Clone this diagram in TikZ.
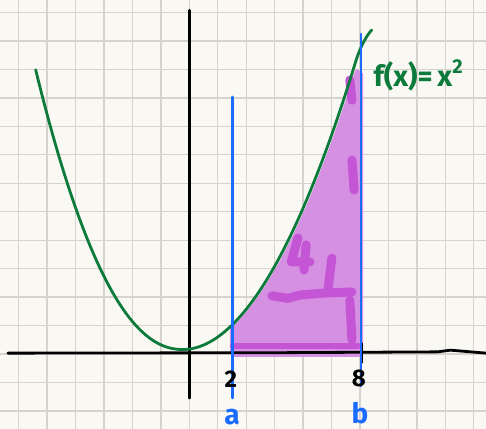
\documentclass[tikz,border=0pt]{standalone}
\usepackage{fontspec}
\setmainfont{Fira Sans}
\usepackage{tikz}
\usepackage{xcolor}

\definecolor{paper}{HTML}{FAF8F3}
\definecolor{gridgray}{HTML}{D6D2CD}
\definecolor{curvegreen}{HTML}{0B7A3B}
\definecolor{boundblue}{HTML}{1A6BFF}
\definecolor{areafill}{HTML}{D690E2}
\definecolor{areadark}{HTML}{C456D6}

\begin{document}
\begin{tikzpicture}[x=42.8pt,y=42.8pt,line cap=round,line join=round,
  declare function={lbranch(\t)=0.105+0.459*pow(-\t-0.15,2.15);
                    rbranch(\t)=0.105+0.4365*pow(\t+0.15,1.96);},
  gridline/.style={gridgray,line width=1.3pt},
  axisline/.style={black,line width=2.8pt},
  boundline/.style={boundblue,line width=2.8pt},
  curveline/.style={curvegreen,line width=2.8pt},
  blob/.style={areadark,line width=9pt},
  numlabel/.style={black,font=\fontsize{24}{26}\selectfont\bfseries},
  letlabel/.style={boundblue,anchor=base,inner sep=0pt,font=\fontsize{28}{30}\selectfont\bfseries}]
\useasboundingbox (-4.423,-1.752) rectangle (6.932,8.271);
\fill[paper] (-4.423,-1.752) rectangle (6.932,8.271);
\draw[gridline] (-4.423,-1.752) grid (6.932,8.271);
% shaded area between a and b
\fill[areafill] (0.95,0.62) -- (0.95,0.05) -- (1.0,-0.07) -- (3.99,-0.07) -- (4.06,0.05)
  -- (4.06,6.55) -- (3.92,6.66)
  -- plot[domain=3.82:1.0,samples=40] ({\x+0.05},{rbranch(\x)}) -- cycle;
\draw[blob] (2.54,2.71) -- (2.38,2.15) -- (2.82,2.15);
\draw[blob] (2.73,2.55) -- (2.68,1.96);
\draw[blob] (3.33,2.24) -- (3.24,1.50);
\draw[blob] (1.93,1.36) -- (2.30,1.30) -- (2.60,1.38) -- (3.10,1.42) -- (3.80,1.45);
\draw[blob] (3.80,4.53) -- (3.85,3.83);
\draw[blob] (3.75,1.26) -- (3.80,0.33);
\draw[blob,line width=6pt] (1.02,0.19) -- (3.94,0.19);
\draw[blob] (3.75,6.40) -- (3.80,5.93);
% axes
\draw[axisline] (-4.24,0.02) -- (2.0,0.03) -- (5.8,0.05) -- (6.1,0.09) -- (6.93,0.02);
\draw[axisline] (0.0,8.03) -- (0.0,-1.03);
\draw[axisline,line width=2pt] (1.03,0.2) -- (1.03,-0.15);
\draw[axisline,line width=2pt] (4.04,0.25) -- (4.04,-0.2);
% f(x)
\draw[curveline] plot[domain=-3.59:-0.151,samples=60] (\x,{lbranch(\x)})
  -- plot[domain=-0.149:3.87,samples=80] (\x,{rbranch(\x)})
  .. controls (3.97,7.12) and (4.12,7.42) .. (4.262,7.57);
% bounds
\draw[boundline] (1.005,6.005) -- (1.005,-1.028);
\draw[boundline] (4.012,7.477) -- (4.012,-0.75);
\node[curvegreen,anchor=west,inner sep=0pt,font=\fontsize{29}{30}\selectfont\bfseries] (flabel) at (4.30,6.50)
  {f(x)=\,x\raisebox{0.45em}{\fontsize{20}{20}\selectfont 2}};
\node[numlabel] (two) at (0.97,-0.58) {2};
\node[numlabel] (eight) at (3.96,-0.56) {8};
\node[letlabel] (aval) at (1.0,-1.64) {a};
\node[letlabel] (bval) at (3.99,-1.63) {b};
\end{tikzpicture}
\end{document}
